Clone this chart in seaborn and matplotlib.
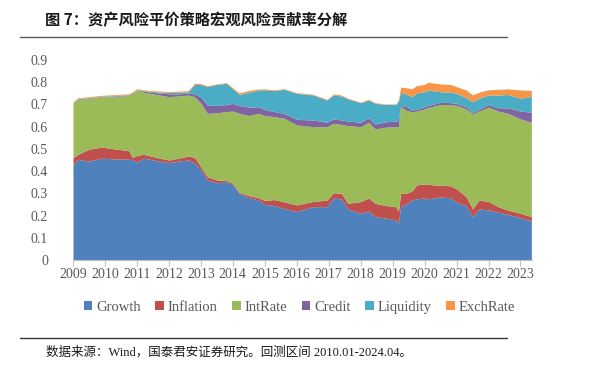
import numpy as np
import matplotlib
matplotlib.use("Agg")
import matplotlib.pyplot as plt
import seaborn as sns
from matplotlib.lines import Line2D
from matplotlib.patches import Patch

# time axis (fractional years) and the top edge of each stacked layer
t = [2009.00, 2009.15, 2009.50, 2009.90, 2010.30, 2010.75, 2010.85, 2011.00, 2011.20, 2011.60,
     2012.00, 2012.30, 2012.60, 2012.80, 2013.00, 2013.20, 2013.50, 2013.80, 2014.00, 2014.20,
     2014.50, 2014.80, 2015.00, 2015.30, 2015.60, 2016.00, 2016.50, 2016.95, 2017.15, 2017.40,
     2017.60, 2018.00, 2018.25, 2018.45, 2018.80, 2019.10, 2019.18, 2019.25, 2019.45, 2019.60,
     2019.75, 2020.00, 2020.10, 2020.50, 2020.80, 2021.00, 2021.30, 2021.50, 2021.70, 2022.00,
     2022.30, 2022.60, 2023.00, 2023.34]

growth_top = [0.428, 0.453, 0.445, 0.458, 0.455, 0.453, 0.452, 0.440, 0.458, 0.448,
              0.438, 0.445, 0.450, 0.438, 0.405, 0.360, 0.347, 0.352, 0.340, 0.300,
              0.280, 0.270, 0.250, 0.245, 0.232, 0.218, 0.240, 0.240, 0.279, 0.275,
              0.230, 0.210, 0.220, 0.195, 0.188, 0.180, 0.165, 0.240, 0.255, 0.270,
              0.275, 0.279, 0.275, 0.284, 0.280, 0.260, 0.245, 0.195, 0.230, 0.225,
              0.215, 0.205, 0.190, 0.176]
inflation_top = [0.461, 0.475, 0.499, 0.508, 0.500, 0.492, 0.462, 0.470, 0.476, 0.462,
                 0.450, 0.458, 0.468, 0.462, 0.420, 0.375, 0.360, 0.358, 0.345, 0.305,
                 0.290, 0.280, 0.268, 0.272, 0.262, 0.248, 0.263, 0.270, 0.303, 0.300,
                 0.255, 0.263, 0.279, 0.255, 0.245, 0.240, 0.220, 0.300, 0.302, 0.310,
                 0.338, 0.342, 0.340, 0.336, 0.334, 0.320, 0.285, 0.230, 0.270, 0.263,
                 0.240, 0.225, 0.210, 0.195]
intrate_top = [0.706, 0.722, 0.727, 0.733, 0.735, 0.740, 0.748, 0.763, 0.755, 0.745,
               0.735, 0.738, 0.742, 0.735, 0.706, 0.660, 0.662, 0.668, 0.670, 0.660,
               0.650, 0.660, 0.650, 0.645, 0.638, 0.608, 0.600, 0.600, 0.615, 0.610,
               0.605, 0.600, 0.620, 0.590, 0.598, 0.600, 0.600, 0.690, 0.672, 0.667,
               0.670, 0.680, 0.685, 0.700, 0.698, 0.696, 0.680, 0.658, 0.670, 0.688,
               0.670, 0.660, 0.635, 0.620]
credit_top = [0.706, 0.724, 0.729, 0.735, 0.738, 0.742, 0.750, 0.765, 0.760, 0.753,
              0.748, 0.748, 0.750, 0.748, 0.733, 0.698, 0.695, 0.700, 0.705, 0.695,
              0.688, 0.690, 0.677, 0.668, 0.660, 0.633, 0.630, 0.620, 0.635, 0.630,
              0.625, 0.620, 0.640, 0.612, 0.622, 0.625, 0.628, 0.695, 0.690, 0.675,
              0.678, 0.690, 0.695, 0.710, 0.708, 0.705, 0.690, 0.665, 0.678, 0.700,
              0.685, 0.685, 0.670, 0.665]
liquidity_top = [0.708, 0.726, 0.731, 0.737, 0.740, 0.744, 0.752, 0.767, 0.762, 0.757,
                 0.754, 0.755, 0.756, 0.790, 0.790, 0.780, 0.790, 0.795, 0.770, 0.745,
                 0.755, 0.765, 0.766, 0.762, 0.768, 0.750, 0.743, 0.720, 0.743, 0.738,
                 0.725, 0.708, 0.720, 0.705, 0.700, 0.700, 0.715, 0.754, 0.745, 0.735,
                 0.752, 0.757, 0.765, 0.757, 0.755, 0.750, 0.730, 0.712, 0.728, 0.743,
                 0.742, 0.745, 0.728, 0.736]
exchrate_top = [0.712, 0.730, 0.735, 0.741, 0.744, 0.748, 0.756, 0.771, 0.766, 0.761,
                0.758, 0.760, 0.762, 0.795, 0.794, 0.784, 0.793, 0.798, 0.775, 0.752,
                0.763, 0.770, 0.770, 0.766, 0.771, 0.753, 0.746, 0.723, 0.748, 0.742,
                0.728, 0.710, 0.724, 0.708, 0.702, 0.702, 0.720, 0.778, 0.775, 0.770,
                0.785, 0.790, 0.800, 0.792, 0.790, 0.780, 0.765, 0.743, 0.755, 0.766,
                0.768, 0.770, 0.765, 0.763]

factors = ["Growth", "Inflation", "IntRate", "Credit", "Liquidity", "ExchRate"]
colors = ["#4F81BD", "#C0504D", "#9BBB59", "#8064A2", "#4BACC6", "#F79646"]
year_ticks = list(range(2009, 2024))
y_ticks = [0, 0.1, 0.2, 0.3, 0.4, 0.5, 0.6, 0.7, 0.8, 0.9]

title = "图 7：资产风险平价策略宏观风险贡献率分解"
source = "数据来源：Wind，国泰君安证券研究。回测区间 2010.01-2024.04。"

sns.set_theme(style="white")
plt.rcParams["font.family"] = ["Liberation Serif", "Noto Sans CJK SC"]

fig = plt.figure(figsize=(5.9, 3.71), dpi=100)
ax = fig.add_axes([0.1237, 0.2992, 0.778, 0.5391])

layers = [np.zeros(len(t)), growth_top, inflation_top, intrate_top,
          credit_top, liquidity_top, exchrate_top]
for i, (name, c) in enumerate(zip(factors, colors)):
    ax.fill_between(t, layers[i], layers[i + 1], color=c, linewidth=0, label=name)

ax.set_xlim(2009, 2023.36)
ax.set_ylim(0, 0.9)
ax.set_xticks(year_ticks)
ax.set_xticklabels([str(y) for y in year_ticks])
ax.set_yticks(y_ticks)
ax.set_yticklabels(["0"] + [f"{v:.1f}" for v in y_ticks[1:]])
for s in ["top", "right", "left"]:
    ax.spines[s].set_visible(False)
ax.spines["bottom"].set_color("#BFBFBF")
ax.spines["bottom"].set_linewidth(0.8)
ax.tick_params(axis="x", bottom=True, length=4, color="#BFBFBF", width=0.8,
               labelsize=10, labelcolor="#595959", pad=2)
ax.tick_params(axis="y", left=False, labelsize=10, labelcolor="#595959", pad=12)

handles = [Patch(facecolor=c, edgecolor="none", label=n) for n, c in zip(factors, colors)]
fig.legend(handles=handles, loc="center", bbox_to_anchor=(0.507, 0.1725), ncol=6,
           frameon=False, handlelength=0.6, handleheight=0.6, handletextpad=0.25,
           columnspacing=1.0, prop={"size": 10.5}, labelcolor="#595959")

fig.text(0.076, 0.946, title, family=["Noto Sans CJK SC"], fontweight="bold",
         fontsize=11, va="center", ha="left", color="#1a1a1a")
fig.add_artist(Line2D([0.034, 0.859], [0.900, 0.900], color="#595959", linewidth=1.0))
fig.add_artist(Line2D([0.034, 0.859], [0.089, 0.089], color="#333333", linewidth=1.0))
fig.text(0.078, 0.051, source, fontsize=9, va="center", ha="left", color="#1a1a1a")

fig.savefig("out.png", dpi=100)
